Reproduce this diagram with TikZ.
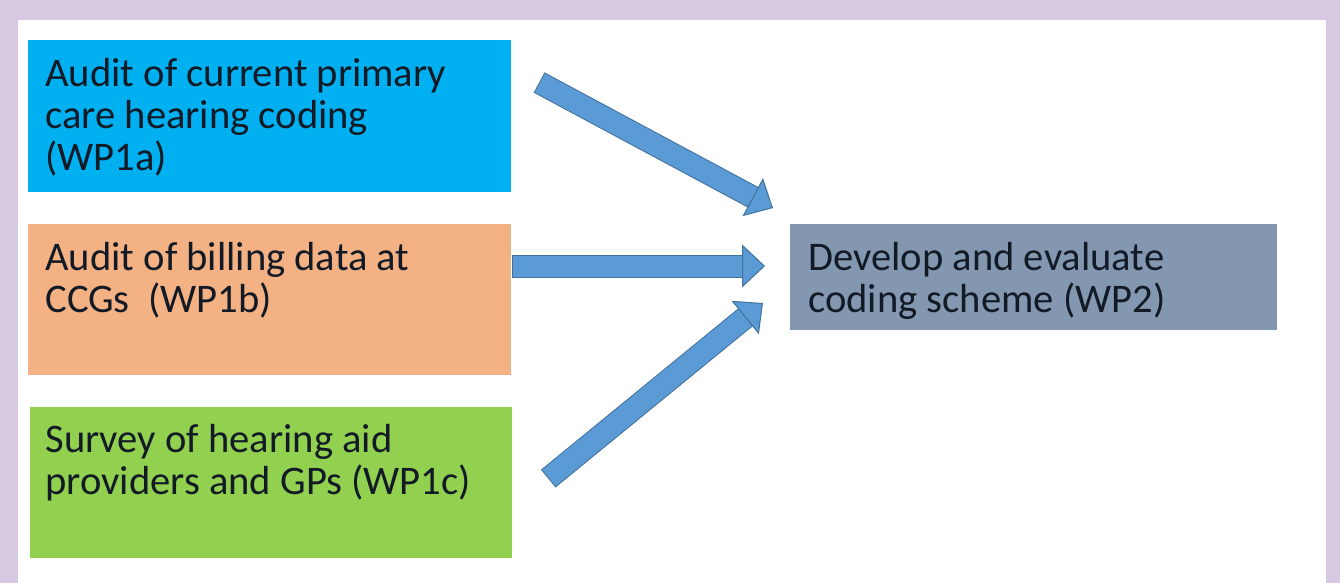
\documentclass[tikz,border=0pt]{standalone}
\usepackage{fontspec}
\setmainfont{Carlito}
\usetikzlibrary{arrows.meta,positioning}

\definecolor{framelilac}{HTML}{D7C9E2}
\definecolor{wpblue}{HTML}{00B0F0}
\definecolor{wporange}{HTML}{F4B183}
\definecolor{wpgreen}{HTML}{92D050}
\definecolor{wpgrey}{HTML}{8497B0}
\definecolor{flowblue}{HTML}{5B9BD5}
\definecolor{flowedge}{HTML}{41719C}
\definecolor{ink}{HTML}{121A26}

\tikzset{
  wpbox/.style={anchor=north west, inner sep=0pt, minimum width=241.5pt, minimum height=76pt},
  wptext/.style={anchor=north west, inner sep=0pt, align=left, text=ink,
    font=\fontsize{20.3}{21}\selectfont},
  flow/.style={draw=flowblue, line width=10.5pt,
    -{Triangle[length=11.5pt, width=21.5pt, color=flowedge, fill=flowblue, line width=0.5pt]},
    preaction={-, draw=flowedge, line width=11.5pt, shorten >=9pt, shorten <=-0.5pt}}
}

\begin{document}
\begin{tikzpicture}[x=0.5pt, y=-0.5pt]
    \useasboundingbox (0,0) rectangle (1340,583);
    \fill[framelilac] (0,0) rectangle (1340,583);
    \fill[white] (18,20) rectangle (1326,583);

    % work package boxes
    \node[wpbox, fill=wpblue] (wp1a) at (28,40) {};
    \node[wptext, below right=9.2pt and 8.5pt of wp1a.north west] (wp1a-text)
        {Audit of current primary\\care hearing coding\\(WP1a)};

    \node[wpbox, fill=wporange, minimum height=75.5pt] (wp1b) at (28,224) {};
    \node[wptext, below right=9.2pt and 8.5pt of wp1b.north west] (wp1b-text)
        {Audit of billing data at\\CCGs~~(WP1b)};

    \node[wpbox, fill=wpgreen, minimum width=241pt, minimum height=75.5pt] (wp1c) at (30,407) {};
    \node[wptext, below right=8.7pt and 7.5pt of wp1c.north west] (wp1c-text)
        {Survey of hearing aid\\providers and GPs (WP1c)};

    \node[wpbox, fill=wpgrey, minimum width=243.5pt, minimum height=53pt] (wp2) at (790,224) {};
    \node[wptext, below right=9.2pt and 9pt of wp2.north west] (wp2-text)
        {Develop and evaluate\\coding scheme (WP2)};

    % block arrows into WP2
    \coordinate (a-tail) at (540,83);
    \coordinate (a-tip) at (773,208);
    \coordinate (b-tail) at (513,266);
    \coordinate (b-tip) at (765,266);
    \coordinate (c-tail) at (549,478);
    \coordinate (c-tip) at (763,303);

    \draw[flow] (a-tail) -- (a-tip);
    \draw[flow] (b-tail) -- (b-tip);
    \draw[flow] (c-tail) -- (c-tip);
\end{tikzpicture}
\end{document}
